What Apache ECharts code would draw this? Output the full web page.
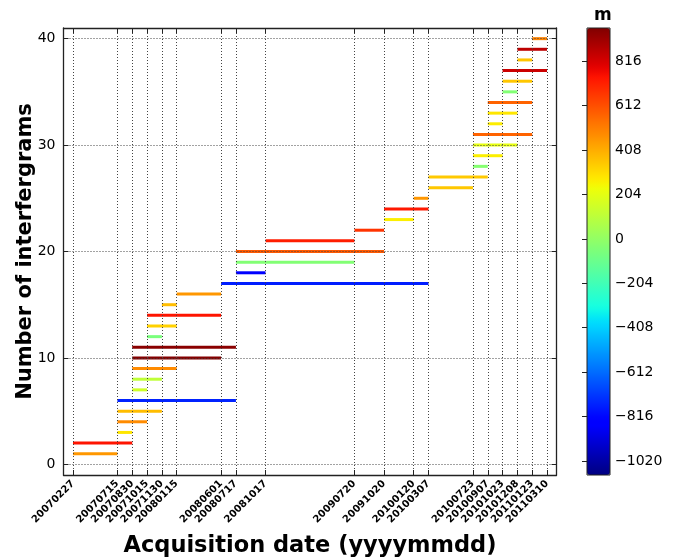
<!DOCTYPE html>
<html>
<head>
<meta charset="utf-8">
<script src="https://cdn.jsdelivr.net/npm/echarts@6/dist/echarts.min.js"></script>
<style>
  html, body { margin: 0; padding: 0; background: #fff; }
  #chart { width: 673px; height: 557px; }
</style>
</head>
<body>
<div id="chart"></div>
<script>
// acquisition dates, used as x tick labels
const acqDates = ['20070227', '20070715', '20070830', '20071015', '20071130', '20080115',
    '20080601', '20080717', '20081017', '20090720', '20091020', '20100120', '20100307',
    '20100723', '20100907', '20101023', '20101208', '20110123', '20110310'];

// interferogram pairs (one per row, row = index + 1)
const masterDates = ['20070227', '20070227', '20070715', '20070715', '20070715', '20070715',
    '20070830', '20070830', '20070830', '20070830', '20070830', '20071015', '20071015',
    '20071015', '20071130', '20080115', '20080601', '20080717', '20080717', '20080717',
    '20081017', '20090720', '20091020', '20091020', '20100120', '20100307', '20100307',
    '20100723', '20100723', '20100723', '20100723', '20100907', '20100907', '20100907',
    '20101023', '20101023', '20101023', '20101208', '20101208', '20110123'];
const slaveDates = ['20070715', '20070830', '20070830', '20071015', '20071130', '20080717',
    '20071015', '20071130', '20080115', '20080601', '20080717', '20071130', '20080115',
    '20080601', '20080115', '20080601', '20100307', '20081017', '20090720', '20091020',
    '20090720', '20091020', '20100120', '20100307', '20100307', '20100723', '20100907',
    '20100907', '20101023', '20101208', '20110123', '20101023', '20101208', '20110123',
    '20101208', '20110123', '20110310', '20110123', '20110310', '20110310'];
// perpendicular baseline (m)
const baselines = [455, 740, 284, 480, 373, -760, 150, 110, 480, 960,
    950, -60, 328, 740, 373, 455, -770, -840, -40, 590,
    720, 672, 265, 730, 455, 350, 345, -30, 265, 210,
    568, 270, 285, 568, -40, 350, 835, 355, 860, 496];

const yTicks = [0, 10, 20, 30, 40];
const cbarTicks = [-1020, -816, -612, -408, -204, 0, 204, 408, 612, 816];
const cbarMin = -1084;
const cbarMax = 968;

// matplotlib "jet" colormap
function jet(t) {
    const seg = (pts) => {
        for (let i = 1; i < pts.length; i++) {
            if (t <= pts[i][0]) {
                const [x0, y0] = pts[i - 1], [x1, y1] = pts[i];
                return y0 + (y1 - y0) * (t - x0) / (x1 - x0);
            }
        }
        return pts[pts.length - 1][1];
    };
    const r = seg([[0, 0], [0.35, 0], [0.66, 1], [0.89, 1], [1, 0.5]]);
    const g = seg([[0, 0], [0.125, 0], [0.375, 1], [0.64, 1], [0.91, 0], [1, 0]]);
    const b = seg([[0, 0.5], [0.11, 1], [0.34, 1], [0.65, 0], [1, 0]]);
    return `rgb(${Math.round(r * 255)},${Math.round(g * 255)},${Math.round(b * 255)})`;
}
const jetColors = [];
for (let i = 0; i <= 64; i++) jetColors.push(jet(i / 64));

const DAY = 864e5;
const toDay = s => Date.UTC(+s.slice(0, 4), +s.slice(4, 6) - 1, +s.slice(6, 8)) / DAY;
const fmtDay = v => {
    const d = new Date(Math.round(v) * DAY);
    const p = n => String(n).padStart(2, '0');
    return d.getUTCFullYear() + p(d.getUTCMonth() + 1) + p(d.getUTCDate());
};

const tickDays = acqDates.map(toDay);
const span = tickDays[tickDays.length - 1] - tickDays[0];
const xMin = tickDays[0] - 0.02 * span;
const xMax = tickDays[tickDays.length - 1] + 0.02 * span;

const pairs = masterDates.map((m, i) => [toDay(m), toDay(slaveDates[i]), i + 1, baselines[i]]);

const FONT = 'DejaVu Sans';
const frame = { show: true, onZero: false, lineStyle: { color: '#222', width: 1.3 } };
const grid = { type: [1, 2], color: '#444', width: 1 };
const tick = { inside: true, length: 5, lineStyle: { color: '#222' } };

const chart = echarts.init(document.getElementById('chart'));
chart.setOption({
    animation: false,
    title: {
        text: 'm', left: 589, top: 2,
        textStyle: { fontFamily: FONT, fontWeight: 'bold', fontSize: 17, color: '#000' }
    },
    grid: [
        { left: 63.5, right: 116.5, top: 28, bottom: 82, containLabel: false, outerBoundsMode: 'none' },
        { left: 587, width: 23, top: 28, height: 447, show: true, z: 10,
          containLabel: false, outerBoundsMode: 'none',
          borderColor: '#222', borderWidth: 1, backgroundColor: 'transparent' }
    ],
    xAxis: [{
        type: 'value', gridIndex: 0, min: xMin, max: xMax, z: 5,
        name: 'Acquisition date (yyyymmdd)', nameLocation: 'middle', nameGap: 60,
        nameTextStyle: { fontFamily: FONT, fontWeight: 'bold', fontSize: 22.5, color: '#000' },
        axisLine: frame,
        axisTick: { ...tick, customValues: tickDays },
        axisLabel: {
            customValues: tickDays, rotate: 45, margin: 7, formatter: fmtDay,
            fontFamily: FONT, fontWeight: 'bold', fontSize: 10, color: '#000'
        },
        splitLine: { show: false }
    }, {
        type: 'value', gridIndex: 0, position: 'top', min: xMin, max: xMax, z: 5,
        axisLine: frame,
        axisTick: { ...tick, customValues: tickDays },
        axisLabel: { show: false },
        splitLine: { show: false }
    }, {
        type: 'value', gridIndex: 1, min: 0, max: 1, show: false
    }],
    yAxis: [{
        type: 'value', gridIndex: 0, min: -1, max: 41, z: 5,
        name: 'Number of interfergrams', nameLocation: 'middle', nameGap: 27,
        nameMoveOverlap: false,
        nameTextStyle: { fontFamily: FONT, fontWeight: 'bold', fontSize: 21, color: '#000' },
        axisLine: frame,
        axisTick: { ...tick, customValues: yTicks },
        axisLabel: { customValues: yTicks, margin: 8, fontFamily: FONT, fontSize: 14, color: '#000' },
        splitLine: { show: true, lineStyle: grid }
    }, {
        type: 'value', gridIndex: 0, position: 'right', min: -1, max: 41, z: 5,
        axisLine: frame,
        axisTick: { ...tick, customValues: yTicks },
        axisLabel: { show: false },
        splitLine: { show: false }
    }, {
        type: 'value', gridIndex: 1, position: 'right', min: cbarMin, max: cbarMax, z: 11,
        axisLine: { show: false },
        axisTick: { ...tick, customValues: cbarTicks },
        axisLabel: {
            customValues: cbarTicks, margin: 5, fontFamily: FONT, fontSize: 14, color: '#000',
            formatter: v => (v < 0 ? '\u2212' + Math.abs(v) : String(v))
        },
        splitLine: { show: false }
    }],
    visualMap: {
        type: 'continuous', seriesIndex: 0, dimension: 3,
        min: cbarMin, max: cbarMax, inRange: { color: jetColors },
        orient: 'vertical', left: 587, top: 28, itemWidth: 23, itemHeight: 447,
        padding: 0, text: null, showLabel: false, calculable: false, hoverLink: false
    },
    series: [{
        type: 'custom',
        xAxisIndex: 0, yAxisIndex: 0,
        encode: { x: [0, 1], y: 2 },
        data: pairs,
        renderItem: (params, api) => {
            const a = api.coord([api.value(0), api.value(2)]);
            const b = api.coord([api.value(1), api.value(2)]);
            return {
                type: 'line',
                shape: { x1: a[0], y1: a[1], x2: b[0], y2: b[1] },
                style: { stroke: api.visual('color'), lineWidth: 3 }
            };
        }
    }, {
        // vertical grid lines at the acquisition dates, drawn over the bars
        type: 'line', xAxisIndex: 0, yAxisIndex: 0, data: [], z: 6, silent: true,
        markLine: {
            silent: true, symbol: 'none', label: { show: false },
            lineStyle: grid,
            data: tickDays.map(d => ({ xAxis: d }))
        }
    }]
});
</script>
</body>
</html>
